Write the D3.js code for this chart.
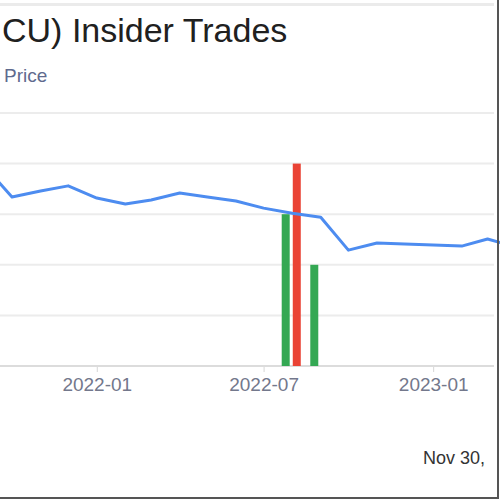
<!DOCTYPE html>
<html>
<head>
<meta charset="utf-8">
<script src="https://cdn.jsdelivr.net/npm/d3@7"></script>
<style>
    html, body { margin: 0; padding: 0; background: #fff; }
    svg { display: block; }
</style>
</head>
<body>
<svg id="svg"></svg>
<script>
// monthly closing price
const priceDates = ["2021-09-01", "2021-10-01", "2021-11-01", "2021-12-01", "2022-01-01", "2022-02-01",
    "2022-03-01", "2022-04-01", "2022-05-01", "2022-06-01", "2022-07-01", "2022-08-01", "2022-09-01",
    "2022-10-01", "2022-11-01", "2022-12-01", "2023-01-01", "2023-02-01", "2023-03-01", "2023-04-01"];
const priceValues = [39.5, 33.4, 34.6, 35.6, 33.2, 32.0, 32.8, 34.2, 33.4, 32.6, 31.2, 30.2, 29.4,
    22.9, 24.3, 24.1, 23.9, 23.7, 25.1, 23.5];

// insider trades
const tradeDates = ["2022-07-25", "2022-08-06", "2022-08-25"];
const tradeCounts = [3, 4, 2];
const tradeTypes = ["buy", "sell", "buy"];

const tickDates = ["2022-01-01", "2022-07-01", "2023-01-01"];

const width = 500;
const height = 500;
const parse = d3.timeParse("%Y-%m-%d");

let svg = d3.select("#svg")
    .attr("width", width)
    .attr("height", height);

const plotRight = 494;
const baseY = 366;
const topY = 113;
const font = "Liberation Sans, Arial, sans-serif";

// top separator
svg.append("rect")
    .attr("x", 0).attr("y", 3)
    .attr("width", plotRight).attr("height", 3)
    .attr("fill", "#ebebeb");

svg.append("text")
    .attr("x", 2)
    .attr("y", 42)
    .style("font-family", font)
    .style("font-size", "34px")
    .style("fill", "#202020")
    .text("CU) Insider Trades");

svg.append("text")
    .attr("x", 4)
    .attr("y", 82)
    .style("font-family", font)
    .style("font-size", "19px")
    .style("fill", "#5f6a8e")
    .text("Price");

const xScale = d3.scaleTime()
    .domain([parse("2021-09-18"), parse("2023-03-08")])
    .range([0, plotRight]);

const countScale = d3.scaleLinear()
    .domain([0, 5])
    .range([baseY, topY]);

const priceScale = d3.scaleLinear()
    .domain([0, 50])
    .range([baseY, topY]);

// gridlines
svg.append("g")
    .selectAll("line")
    .data(countScale.ticks(5).filter(d => d > 0))
    .enter().append("line")
    .attr("x1", 0).attr("x2", plotRight)
    .attr("y1", d => countScale(d)).attr("y2", d => countScale(d))
    .attr("stroke", "#ececec")
    .attr("stroke-width", 2);

// x axis
const xAxis = svg.append("g")
    .attr("transform", `translate(0,${baseY})`)
    .call(d3.axisBottom(xScale)
        .tickValues(tickDates.map(parse))
        .tickFormat(d3.timeFormat("%Y-%m"))
        .tickSize(6)
        .tickPadding(6));
xAxis.select(".domain").remove();
xAxis.selectAll(".tick line").attr("stroke", "#d6d6d6");
xAxis.selectAll("text")
    .style("font-family", font)
    .style("font-size", "19px")
    .style("fill", "#73788c");

svg.append("line")
    .attr("x1", 0).attr("x2", plotRight)
    .attr("y1", baseY).attr("y2", baseY)
    .attr("stroke", "#dcdcdc")
    .attr("stroke-width", 2);

// trade bars
const trades = tradeDates.map((d, i) => ({date: parse(d), count: tradeCounts[i], type: tradeTypes[i]}));
const barWidth = 8;
svg.append("g")
    .selectAll(".bar")
    .data(trades)
    .enter().append("rect")
    .attr("class", "bar")
    .attr("x", d => xScale(d.date) - barWidth / 2)
    .attr("y", d => countScale(d.count))
    .attr("width", barWidth)
    .attr("height", d => baseY - countScale(d.count))
    .attr("fill", d => d.type == "buy" ? "#34a853" : "#ea4335");

// price line
const prices = priceDates.map((d, i) => ({date: parse(d), price: priceValues[i]}));
svg.append("path")
    .datum(prices)
    .attr("fill", "none")
    .attr("stroke", "#4d8cf0")
    .attr("stroke-width", 3)
    .attr("stroke-linejoin", "round")
    .attr("d", d3.line()
        .x(d => xScale(d.date))
        .y(d => priceScale(d.price)));

svg.append("text")
    .attr("x", 423)
    .attr("y", 464)
    .style("font-family", font)
    .style("font-size", "18px")
    .style("fill", "#333")
    .text("Nov 30,");

// frame on the right and bottom
svg.append("rect")
    .attr("x", 497).attr("y", 0)
    .attr("width", 2).attr("height", 499)
    .attr("fill", "#555");
svg.append("rect")
    .attr("x", 0).attr("y", 497)
    .attr("width", 499).attr("height", 2)
    .attr("fill", "#555");
</script>
</body>
</html>
